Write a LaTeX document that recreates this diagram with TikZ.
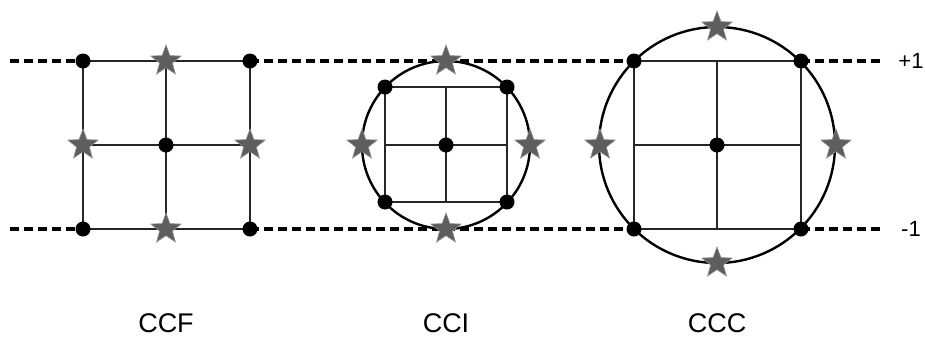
\documentclass[tikz,border=0pt]{standalone}
\usepackage{fontspec}
\setmainfont{Liberation Sans}
\usetikzlibrary{shapes.geometric}
\definecolor{stargray}{HTML}{5E5E5E}
\tikzset{
  dot/.style={circle, fill=black, inner sep=0pt, minimum size=15pt},
  starnode/.style={star, star points=5, star point ratio=2.4, fill=stargray, draw=stargray!70, line width=0.6pt, inner sep=0pt, minimum size=32pt},
  grid/.style={line width=2.4pt, draw=black!85},
  ring/.style={line width=2.4pt, draw=black},
  dashline/.style={line width=3.2pt, dash pattern=on 9pt off 5pt},
  lbl/.style={font=\fontsize{27}{30}\selectfont},
  val/.style={font=\fontsize{22}{26}\selectfont},
}
\begin{document}
\begin{tikzpicture}[x=1pt,y=-1pt]
\useasboundingbox (0,0) rectangle (925,338);
% coordinates of dashed line ends
\coordinate (L1) at (10,61);
\coordinate (L2) at (10,229);
\coordinate (R1) at (880,61);
\coordinate (R2) at (880,229);
% ---------- CCF ----------
\coordinate (fa) at (83,61);
\coordinate (fb) at (250,61);
\coordinate (fc) at (250,229);
\coordinate (fd) at (83,229);
\coordinate (fo) at (166,145);
\coordinate (ft) at (166,61);
\coordinate (fbm) at (166,229);
\coordinate (fl) at (83,145);
\coordinate (fr) at (250,145);
% ---------- CCI ----------
\coordinate (ia) at (385,87);
\coordinate (ib) at (507,87);
\coordinate (ic) at (507,202);
\coordinate (id) at (385,202);
\coordinate (io) at (446,145);
\coordinate (it) at (446,87);
\coordinate (ibm) at (446,202);
\coordinate (il) at (385,145);
\coordinate (ir) at (507,145);
% ---------- CCC ----------
\coordinate (ca) at (634,61);
\coordinate (cb) at (801,61);
\coordinate (cc) at (801,229);
\coordinate (cd) at (634,229);
\coordinate (co) at (717,145);
\coordinate (ct) at (717,61);
\coordinate (cbm) at (717,229);
\coordinate (cl) at (634,145);
\coordinate (cr) at (801,145);
% dashed lines
\draw[dashline] (L1) -- (fa);
\draw[dashline] (fb) -- (ca);
\draw[dashline] (cb) -- (R1);
\draw[dashline] (L2) -- (fd);
\draw[dashline] (fc) -- (cd);
\draw[dashline] (cc) -- (R2);
% grids
\draw[grid] (fa) rectangle (fc) (ft) -- (fbm) (fl) -- (fr);
\draw[grid] (ia) rectangle (ic) (it) -- (ibm) (il) -- (ir);
\draw[grid] (ca) rectangle (cc) (ct) -- (cbm) (cl) -- (cr);
% circles
\draw[ring] (io) circle[radius=84];
\draw[ring] (co) circle[radius=118];
% dots
\foreach \p in {fa,fb,fc,fd,fo,ia,ib,ic,id,io,ca,cb,cc,cd,co}
  \node[dot] (d\p) at (\p) {};
% stars
\node[starnode] (s1) at (166,61) {};
\node[starnode] (s2) at (83,145) {};
\node[starnode] (s3) at (250,145) {};
\node[starnode] (s4) at (166,229) {};
\node[starnode] (s5) at (446,61) {};
\node[starnode] (s6) at (362,145) {};
\node[starnode] (s7) at (530,145) {};
\node[starnode] (s8) at (446,229) {};
\node[starnode] (s9) at (717,27) {};
\node[starnode] (s10) at (600,145) {};
\node[starnode] (s11) at (836,145) {};
\node[starnode] (s12) at (717,263) {};
% labels
\node[lbl] (tf) at (166,323) {CCF};
\node[lbl] (ti) at (446,323) {CCI};
\node[lbl] (tc) at (717,323) {CCC};
\node[val] (p1) at (911,61) {+1};
\node[val] (m1) at (911,229) {-1};
\end{tikzpicture}
\end{document}
